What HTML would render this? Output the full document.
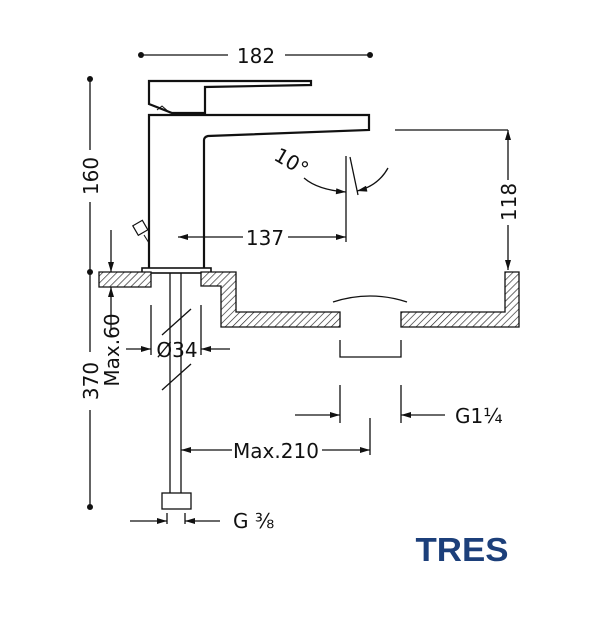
<!DOCTYPE html>
<html><head><meta charset="utf-8"><style>
html,body{margin:0;padding:0;background:#fff}
svg{display:block}
text{font-family:"DejaVu Sans","Liberation Sans",sans-serif;fill:#111}
</style></head><body>
<svg width="600" height="633" viewBox="0 0 600 633" xmlns="http://www.w3.org/2000/svg">
<defs>
<pattern id="h" patternUnits="userSpaceOnUse" width="5" height="5" patternTransform="rotate(45)">
<rect width="5" height="5" fill="#fff"/><line x1="0" y1="0" x2="0" y2="5" stroke="#222" stroke-width="1.3"/>
</pattern>
<marker id="a" viewBox="0 0 10 6" refX="10" refY="3" markerWidth="15" markerHeight="6" markerUnits="userSpaceOnUse" orient="auto"><path d="M0,0L10,3L0,6z" fill="#111"/></marker>
</defs>
<g stroke="#111" fill="none" stroke-width="1.3">
<line x1="141" y1="55" x2="228" y2="55"/><line x1="285" y1="55" x2="370" y2="55"/>
<line x1="90" y1="79" x2="90" y2="150"/><line x1="90" y1="202" x2="90" y2="272"/>
<line x1="90" y1="272" x2="90" y2="352"/><line x1="90" y1="410" x2="90" y2="507"/>
<path d="M149,81 H311 V85 L205,87 V113 H172 L149,104 Z" stroke-width="2.2"/>
<path d="M157,110 L162,106 L170,113" stroke-width="1"/>
<path d="M149,268 V115 H369 V130 L208,136 Q204,137 204,140 V268" stroke-width="2.2"/>
<rect x="142" y="268" width="69" height="5" stroke-width="1.6"/>
<g transform="rotate(-30 141 228)"><rect x="135" y="222" width="11" height="11" stroke-width="1.2"/></g>
<line x1="144" y1="235" x2="149" y2="243" stroke-width="1"/>
<path d="M99,272 H151 V287 H99 Z" fill="url(#h)"/>
<path d="M201,272 H236 V312 H340 V327 H221 V286 H201 Z" fill="url(#h)"/>
<path d="M401,312 H505 V272 H519 V327 H401 Z" fill="url(#h)"/>
<path d="M333,302 Q370,290 407,302"/>
<path d="M340,340 V357 H401 V340"/>
<line x1="170" y1="273" x2="170" y2="493"/><line x1="181" y1="273" x2="181" y2="493"/>
<line x1="162" y1="335" x2="191" y2="309"/><line x1="162" y1="390" x2="191" y2="364"/>
<rect x="162" y="493" width="29" height="16"/>
<line x1="151" y1="305" x2="151" y2="355"/><line x1="201" y1="305" x2="201" y2="355"/>
<line x1="126" y1="349" x2="151" y2="349" marker-end="url(#a)"/>
<line x1="230" y1="349" x2="201" y2="349" marker-end="url(#a)"/>
<line x1="111" y1="230" x2="111" y2="272" marker-end="url(#a)"/>
<line x1="111" y1="330" x2="111" y2="287" marker-end="url(#a)"/>
<line x1="167" y1="513" x2="167" y2="524"/><line x1="185" y1="513" x2="185" y2="524"/>
<line x1="130" y1="521" x2="167" y2="521" marker-end="url(#a)"/>
<line x1="220" y1="521" x2="185" y2="521" marker-end="url(#a)"/>
<line x1="340" y1="385" x2="340" y2="423"/><line x1="401" y1="385" x2="401" y2="423"/>
<line x1="295" y1="415" x2="340" y2="415" marker-end="url(#a)"/>
<line x1="445" y1="415" x2="401" y2="415" marker-end="url(#a)"/>
<line x1="370" y1="418" x2="370" y2="455"/>
<line x1="232" y1="450" x2="181" y2="450" marker-end="url(#a)"/>
<line x1="322" y1="450" x2="370" y2="450" marker-end="url(#a)"/>
<line x1="243" y1="237" x2="178" y2="237" marker-end="url(#a)"/>
<line x1="288" y1="237" x2="346" y2="237" marker-end="url(#a)"/>
<line x1="346" y1="156" x2="346" y2="242"/>
<line x1="350" y1="157" x2="358" y2="195"/>
<path d="M304,178 Q318,190 346,192" marker-end="url(#a)"/>
<path d="M388,168 Q378,186 357,191" marker-end="url(#a)"/>
<line x1="395" y1="130" x2="508" y2="130"/>
<line x1="508" y1="180" x2="508" y2="130" marker-end="url(#a)"/>
<line x1="508" y1="225" x2="508" y2="270" marker-end="url(#a)"/>
</g>
<g fill="#111">
<circle cx="141" cy="55" r="3"/><circle cx="370" cy="55" r="3"/>
<circle cx="90" cy="79" r="3"/><circle cx="90" cy="272" r="3"/><circle cx="90" cy="507" r="3"/>
</g>
<g font-size="20">
<text x="256" y="63" text-anchor="middle">182</text>
<text x="265" y="245" text-anchor="middle">137</text>
<text x="276" y="458" text-anchor="middle">Max.210</text>
<text x="177" y="357" text-anchor="middle">Ø34</text>
<text x="455" y="423">G1¼</text>
<text x="233" y="528">G ⅜</text>
<text transform="translate(98,176) rotate(-90)" text-anchor="middle">160</text>
<text transform="translate(98,381) rotate(-90)" text-anchor="middle">370</text>
<text transform="translate(119,350) rotate(-90)" text-anchor="middle">Max.60</text>
<text transform="translate(516,202) rotate(-90)" text-anchor="middle">118</text>
<text transform="translate(288,168) rotate(30)" text-anchor="middle">10°</text>
</g>
<text x="462" y="561" text-anchor="middle" font-size="33" font-weight="bold" style="fill:#1c3f7a;font-family:'Liberation Sans',sans-serif" textLength="93" lengthAdjust="spacingAndGlyphs">TRES</text>
</svg>
</body></html>
